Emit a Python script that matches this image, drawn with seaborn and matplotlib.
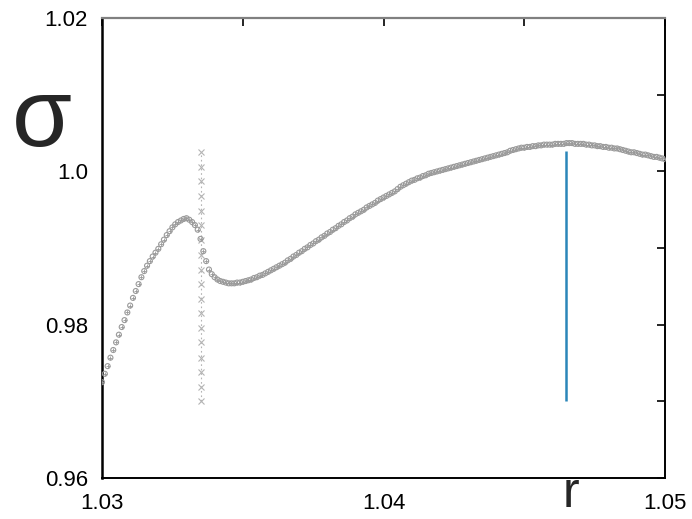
"""
sigma(r) curve with a dotted marker line and a blue marker line.
"""

import matplotlib
matplotlib.use("Agg")
import matplotlib.pyplot as plt
from matplotlib.ticker import FixedFormatter, FixedLocator
import seaborn as sns

# ── Data ──────────────────────────────────────────────────────────────────────
r_vals = [
    1.0300, 1.0301, 1.0302, 1.0303, 1.0304, 1.0305, 1.0306, 1.0307, 1.0308, 1.0309,
    1.0310, 1.0311, 1.0312, 1.0313, 1.0314, 1.0315, 1.0316, 1.0317, 1.0318, 1.0319,
    1.0320, 1.0321, 1.0322, 1.0323, 1.0324, 1.0325, 1.0326, 1.0327, 1.0328, 1.0329,
    1.0330, 1.0331, 1.0332, 1.0333, 1.0334, 1.0335, 1.0336, 1.0337, 1.0338, 1.0339,
    1.0340, 1.0341, 1.0342, 1.0343, 1.0344, 1.0345, 1.0346, 1.0347, 1.0348, 1.0349,
    1.0350, 1.0351, 1.0352, 1.0353, 1.0354, 1.0355, 1.0356, 1.0357, 1.0358, 1.0359,
    1.0360, 1.0361, 1.0362, 1.0363, 1.0364, 1.0365, 1.0366, 1.0367, 1.0368, 1.0369,
    1.0370, 1.0371, 1.0372, 1.0373, 1.0374, 1.0375, 1.0376, 1.0377, 1.0378, 1.0379,
    1.0380, 1.0381, 1.0382, 1.0383, 1.0384, 1.0385, 1.0386, 1.0387, 1.0388, 1.0389,
    1.0390, 1.0391, 1.0392, 1.0393, 1.0394, 1.0395, 1.0396, 1.0397, 1.0398, 1.0399,
    1.0400, 1.0401, 1.0402, 1.0403, 1.0404, 1.0405, 1.0406, 1.0407, 1.0408, 1.0409,
    1.0410, 1.0411, 1.0412, 1.0413, 1.0414, 1.0415, 1.0416, 1.0417, 1.0418, 1.0419,
    1.0420, 1.0421, 1.0422, 1.0423, 1.0424, 1.0425, 1.0426, 1.0427, 1.0428, 1.0429,
    1.0430, 1.0431, 1.0432, 1.0433, 1.0434, 1.0435, 1.0436, 1.0437, 1.0438, 1.0439,
    1.0440, 1.0441, 1.0442, 1.0443, 1.0444, 1.0445, 1.0446, 1.0447, 1.0448, 1.0449,
    1.0450, 1.0451, 1.0452, 1.0453, 1.0454, 1.0455, 1.0456, 1.0457, 1.0458, 1.0459,
    1.0460, 1.0461, 1.0462, 1.0463, 1.0464, 1.0465, 1.0466, 1.0467, 1.0468, 1.0469,
    1.0470, 1.0471, 1.0472, 1.0473, 1.0474, 1.0475, 1.0476, 1.0477, 1.0478, 1.0479,
    1.0480, 1.0481, 1.0482, 1.0483, 1.0484, 1.0485, 1.0486, 1.0487, 1.0488, 1.0489,
    1.0490, 1.0491, 1.0492, 1.0493, 1.0494, 1.0495, 1.0496, 1.0497, 1.0498, 1.0499,
    1.0500,
]
sigma_vals = [
    0.9725, 0.9736, 0.9746, 0.9757, 0.9767, 0.9777, 0.9787, 0.9797, 0.9806, 0.9816,
    0.9825, 0.9835, 0.9844, 0.9853, 0.9862, 0.9870, 0.9877, 0.9883, 0.9889, 0.9894,
    0.9899, 0.9905, 0.9911, 0.9917, 0.9922, 0.9927, 0.9931, 0.9934, 0.9936, 0.9938,
    0.9939, 0.9937, 0.9934, 0.9930, 0.9924, 0.9912, 0.9896, 0.9883, 0.9872, 0.9866,
    0.9862, 0.9859, 0.9857, 0.9856, 0.9855, 0.9854, 0.9854, 0.9854, 0.9855, 0.9855,
    0.9856, 0.9857, 0.9858, 0.9859, 0.9861, 0.9862, 0.9864, 0.9865, 0.9867, 0.9869,
    0.9871, 0.9873, 0.9875, 0.9877, 0.9879, 0.9881, 0.9884, 0.9886, 0.9889, 0.9891,
    0.9894, 0.9896, 0.9899, 0.9901, 0.9904, 0.9906, 0.9909, 0.9911, 0.9914, 0.9916,
    0.9919, 0.9921, 0.9924, 0.9926, 0.9929, 0.9931, 0.9934, 0.9936, 0.9939, 0.9941,
    0.9944, 0.9946, 0.9948, 0.9950, 0.9953, 0.9955, 0.9957, 0.9959, 0.9962, 0.9964,
    0.9966, 0.9968, 0.9970, 0.9972, 0.9974, 0.9977, 0.9980, 0.9982, 0.9984, 0.9986,
    0.9988, 0.9989, 0.9991, 0.9992, 0.9994, 0.9995, 0.9997, 0.9998, 0.9999, 1.0000,
    1.0001, 1.0002, 1.0003, 1.0004, 1.0005, 1.0006, 1.0007, 1.0008, 1.0009, 1.0010,
    1.0011, 1.0012, 1.0013, 1.0014, 1.0015, 1.0016, 1.0017, 1.0018, 1.0019, 1.0020,
    1.0021, 1.0022, 1.0023, 1.0024, 1.0025, 1.0027, 1.0028, 1.0029, 1.0030, 1.0031,
    1.0031, 1.0032, 1.0032, 1.0033, 1.0033, 1.0034, 1.0034, 1.0035, 1.0035, 1.0035,
    1.0035, 1.0036, 1.0036, 1.0036, 1.0036, 1.0037, 1.0037, 1.0037, 1.0036, 1.0036,
    1.0036, 1.0036, 1.0035, 1.0035, 1.0034, 1.0034, 1.0033, 1.0033, 1.0032, 1.0032,
    1.0031, 1.0031, 1.0030, 1.0030, 1.0029, 1.0028, 1.0027, 1.0026, 1.0025, 1.0025,
    1.0024, 1.0023, 1.0022, 1.0022, 1.0021, 1.0020, 1.0019, 1.0019, 1.0018, 1.0017,
    1.0016,
]

# dotted marker line
cross_r = 1.03352
cross_sigma = [
    0.9700, 0.9719, 0.9738, 0.9757, 0.9777, 0.9796, 0.9815, 0.9834, 0.9853,
    0.9872, 0.9891, 0.9910, 0.9930, 0.9949, 0.9968, 0.9987, 1.0006, 1.0025,
]

# blue marker line
blue_r = 1.04648
blue_lo, blue_hi = 0.9700, 1.0027

x_ticks = [1.03, 1.035, 1.04, 1.045, 1.05]
x_labels = ["1.03", "", "1.04", "", "1.05"]
y_ticks = [0.96, 0.97, 0.98, 0.99, 1.00, 1.01, 1.02]
y_labels = ["0.96", "", "0.98", "", "1.0", "", "1.02"]

# ── Style ────────────────────────────────────────────────────────────────────
sns.set_theme(style="white")
plt.rcParams["font.family"] = ["Liberation Sans", "DejaVu Sans"]

fig = plt.figure(figsize=(6.92, 5.19), dpi=100)
ax = fig.add_axes([0.1474, 0.079, 0.8136, 0.886])

GRAY = "#9a9a9a"

sns.scatterplot(x=r_vals, y=sigma_vals, ax=ax, marker="o", s=13,
                facecolor="none", edgecolor=GRAY, linewidth=0.8, zorder=3)
sns.scatterplot(x=r_vals, y=sigma_vals, ax=ax, marker="+", s=10,
                color=GRAY, linewidth=0.6, zorder=3)

ax.plot([cross_r] * len(cross_sigma), cross_sigma, linestyle=(0, (1.5, 2.5)),
        color="#b4b4b4", linewidth=0.8, marker="x", markersize=4.5,
        markeredgewidth=0.8, zorder=2)

ax.vlines(blue_r, blue_lo, blue_hi, color="#2b86b9", linewidth=1.8, zorder=4)

ax.set_xlim(1.03, 1.05)
ax.set_ylim(0.96, 1.02)
ax.xaxis.set_major_locator(FixedLocator(x_ticks))
ax.xaxis.set_major_formatter(FixedFormatter(x_labels))
ax.yaxis.set_major_locator(FixedLocator(y_ticks))
ax.yaxis.set_major_formatter(FixedFormatter(y_labels))

ax.tick_params(axis="both", direction="in", length=6, width=1.2,
               colors="black", labelsize=16, top=True, right=True)
ax.tick_params(axis="x", pad=11)
ax.tick_params(axis="y", pad=10)

for side in ["left", "bottom", "right"]:
    ax.spines[side].set_color("black")
    ax.spines[side].set_linewidth(1.4)
ax.spines["left"].set_linewidth(1.8)
ax.spines["top"].set_color("#808080")
ax.spines["top"].set_linewidth(1.6)

ax.text(-0.107, 0.722, "σ", transform=ax.transAxes, fontsize=70,
        ha="center", va="baseline")
fig.text(571 / 692, 2 / 519, "r", fontsize=36, ha="center", va="bottom")

fig.savefig("out.png", dpi=100)
